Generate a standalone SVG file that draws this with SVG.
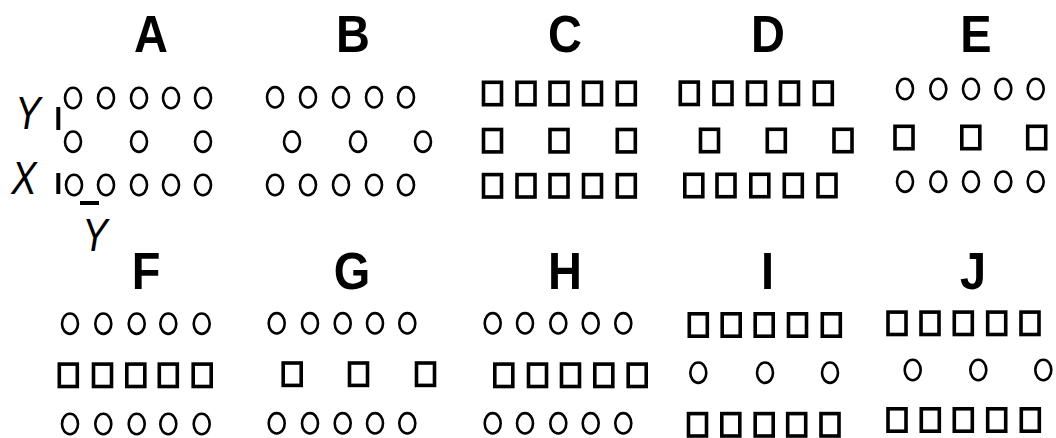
<svg xmlns="http://www.w3.org/2000/svg" width="1056" height="438" viewBox="0 0 1056 438">
<style>
.c{fill:none;stroke:#000;stroke-width:2.6}
.s{fill:none;stroke:#000;stroke-width:3.6}
.t{font-family:"Liberation Sans",Arial,sans-serif;font-weight:bold;font-size:47px;text-anchor:middle;fill:#000}
.l{font-family:"Liberation Sans",Arial,sans-serif;font-style:italic;font-size:38px;text-anchor:middle;fill:#000}
.m{stroke:#000;stroke-width:4}
</style>
<defs>
<ellipse id="o" class="c" cx="0" cy="0" rx="8" ry="10.2"/>
<rect id="q" class="s" x="-9" y="-11.2" width="18" height="22.4"/>
</defs>
<rect width="1056" height="438" fill="#fff"/>

<g id="panel-A">
<text class="t" transform="translate(151,51.5) scale(1,1.12)">A</text>
<text class="l" transform="translate(28,129) scale(1,1.2)">Y</text>
<text class="l" transform="translate(24,194) scale(1,1.2)">X</text>
<text class="l" transform="translate(95,251) scale(1,1.2)">Y</text>
<line class="m" x1="58.3" y1="107" x2="58.3" y2="130"/>
<line class="m" x1="58.3" y1="173" x2="58.3" y2="194"/>
<line class="m" x1="80" y1="203" x2="99" y2="203"/>
<use href="#o" x="73" y="98"/><use href="#o" x="106" y="98"/><use href="#o" x="139" y="98"/><use href="#o" x="171" y="98"/><use href="#o" x="203" y="98"/>
<use href="#o" x="73" y="141.7"/><use href="#o" x="139" y="141.7"/><use href="#o" x="203" y="141.7"/>
<use href="#o" x="74" y="185"/><use href="#o" x="106" y="185"/><use href="#o" x="139" y="185"/><use href="#o" x="171" y="185"/><use href="#o" x="203" y="185"/>
</g>

<g id="panel-B">
<text class="t" transform="translate(353,51.5) scale(1,1.12)">B</text>
<use href="#o" x="275" y="97.3"/><use href="#o" x="308" y="97.3"/><use href="#o" x="341" y="97.3"/><use href="#o" x="374" y="97.3"/><use href="#o" x="406" y="97.3"/>
<use href="#o" x="292" y="141.7"/><use href="#o" x="358" y="141.7"/><use href="#o" x="423" y="141.7"/>
<use href="#o" x="275" y="185"/><use href="#o" x="308" y="185"/><use href="#o" x="341" y="185"/><use href="#o" x="374" y="185"/><use href="#o" x="406" y="185"/>
</g>

<g id="panel-C">
<text class="t" transform="translate(565,51.5) scale(1,1.12)">C</text>
<use href="#q" x="492.5" y="93.5"/><use href="#q" x="526" y="93.5"/><use href="#q" x="559" y="93.5"/><use href="#q" x="592.5" y="93.5"/><use href="#q" x="626.3" y="93.5"/>
<use href="#q" x="492.5" y="140.7"/><use href="#q" x="559" y="140.7"/><use href="#q" x="626.3" y="140.7"/>
<use href="#q" x="492.5" y="185.8"/><use href="#q" x="526" y="185.8"/><use href="#q" x="559" y="185.8"/><use href="#q" x="592.5" y="185.8"/><use href="#q" x="626.3" y="185.8"/>
</g>

<g id="panel-D">
<text class="t" transform="translate(768,51.5) scale(1,1.12)">D</text>
<use href="#q" x="689.3" y="93.3"/><use href="#q" x="723" y="93.3"/><use href="#q" x="756.5" y="93.3"/><use href="#q" x="789.5" y="93.3"/><use href="#q" x="823.3" y="93.3"/>
<use href="#q" x="709.5" y="140.5"/><use href="#q" x="776.3" y="140.5"/><use href="#q" x="843" y="140.5"/>
<use href="#q" x="693.8" y="185.5"/><use href="#q" x="726" y="185.5"/><use href="#q" x="759.8" y="185.5"/><use href="#q" x="793.3" y="185.5"/><use href="#q" x="827" y="185.5"/>
</g>

<g id="panel-E">
<text class="t" transform="translate(976,51.5) scale(1,1.12)">E</text>
<use href="#o" x="905" y="89"/><use href="#o" x="938.3" y="89"/><use href="#o" x="971" y="89"/><use href="#o" x="1003.3" y="89"/><use href="#o" x="1035.7" y="89"/>
<use href="#q" x="904" y="137.5"/><use href="#q" x="970.8" y="137.5"/><use href="#q" x="1036.7" y="137.5"/>
<use href="#o" x="905" y="181.7"/><use href="#o" x="938.3" y="181.7"/><use href="#o" x="971" y="181.7"/><use href="#o" x="1003.3" y="181.7"/><use href="#o" x="1035.7" y="181.7"/>
</g>

<g id="panel-F">
<text class="t" transform="translate(146,289) scale(1,1.12)">F</text>
<use href="#o" x="70" y="323.7"/><use href="#o" x="103.3" y="323.7"/><use href="#o" x="136.7" y="323.7"/><use href="#o" x="168.3" y="323.7"/><use href="#o" x="201.7" y="323.7"/>
<use href="#q" x="68.3" y="375.3"/><use href="#q" x="102.5" y="375.3"/><use href="#q" x="135.8" y="375.3"/><use href="#q" x="168.3" y="375.3"/><use href="#q" x="202.2" y="375.3"/>
<use href="#o" x="70" y="424"/><use href="#o" x="103.3" y="424"/><use href="#o" x="136.7" y="424"/><use href="#o" x="168.3" y="424"/><use href="#o" x="201.7" y="424"/>
</g>

<g id="panel-G">
<text class="t" transform="translate(352,289) scale(1,1.12)">G</text>
<use href="#o" x="276.7" y="323.3"/><use href="#o" x="310" y="323.3"/><use href="#o" x="342.7" y="323.3"/><use href="#o" x="375" y="323.3"/><use href="#o" x="407.3" y="323.3"/>
<use href="#q" x="292.2" y="374.2"/><use href="#q" x="358.5" y="374.2"/><use href="#q" x="425.5" y="374.2"/>
<use href="#o" x="276.7" y="423.3"/><use href="#o" x="310" y="423.3"/><use href="#o" x="342.7" y="423.3"/><use href="#o" x="375" y="423.3"/><use href="#o" x="407.3" y="423.3"/>
</g>

<g id="panel-H">
<text class="t" transform="translate(565,289) scale(1,1.12)">H</text>
<use href="#o" x="492.7" y="323.3"/><use href="#o" x="525" y="323.3"/><use href="#o" x="558.3" y="323.3"/><use href="#o" x="590.7" y="323.3"/><use href="#o" x="623.3" y="323.3"/>
<use href="#q" x="503.8" y="375.3"/><use href="#q" x="537.5" y="375.3"/><use href="#q" x="570.5" y="375.3"/><use href="#q" x="603.8" y="375.3"/><use href="#q" x="637.2" y="375.3"/>
<use href="#o" x="492.7" y="423.3"/><use href="#o" x="525" y="423.3"/><use href="#o" x="558.3" y="423.3"/><use href="#o" x="590.7" y="423.3"/><use href="#o" x="623.3" y="423.3"/>
</g>

<g id="panel-I">
<text class="t" transform="translate(767.5,289) scale(1,1.12)">I</text>
<use href="#q" x="698.3" y="325"/><use href="#q" x="731.2" y="325"/><use href="#q" x="764.2" y="325"/><use href="#q" x="797.5" y="325"/><use href="#q" x="831.3" y="325"/>
<use href="#o" x="698.3" y="372.7"/><use href="#o" x="765" y="372.7"/><use href="#o" x="830" y="372.7"/>
<use href="#q" x="697.5" y="424.8"/><use href="#q" x="730.8" y="424.8"/><use href="#q" x="764.2" y="424.8"/><use href="#q" x="796.7" y="424.8"/><use href="#q" x="830" y="424.8"/>
</g>

<g id="panel-J">
<text class="t" transform="translate(973,289) scale(1,1.12)">J</text>
<use href="#q" x="897" y="323.3"/><use href="#q" x="930" y="323.3"/><use href="#q" x="963.3" y="323.3"/><use href="#q" x="996.7" y="323.3"/><use href="#q" x="1030" y="323.3"/>
<use href="#o" x="912.7" y="370"/><use href="#o" x="978.3" y="370"/><use href="#o" x="1043.3" y="370"/>
<use href="#q" x="897" y="420"/><use href="#q" x="930.3" y="420"/><use href="#q" x="963.3" y="420"/><use href="#q" x="996.7" y="420"/><use href="#q" x="1030.3" y="420"/>
</g>

<g id="connectors"></g>
</svg>
